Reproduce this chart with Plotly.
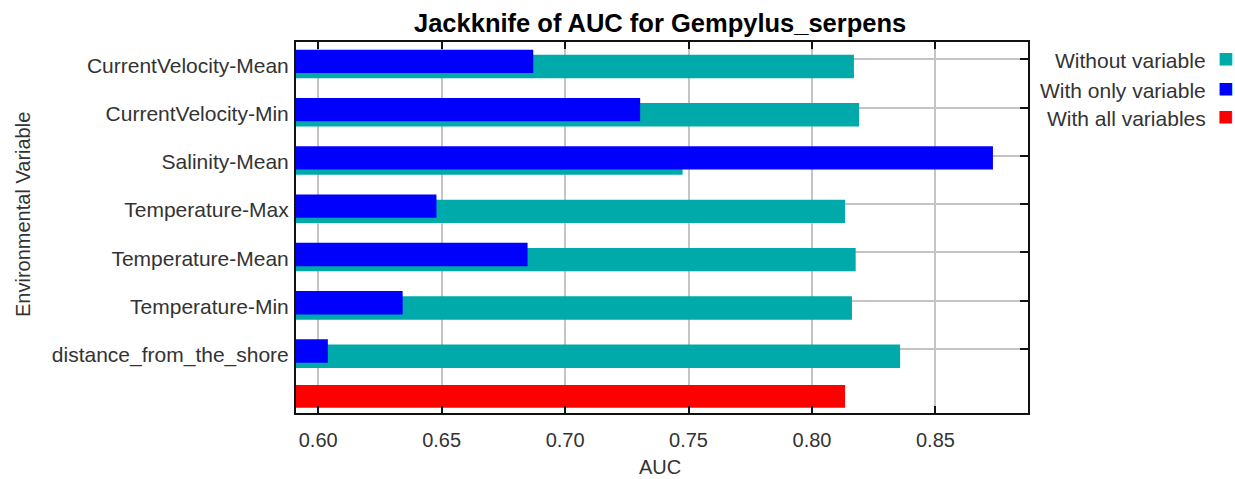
import plotly.graph_objects as go

# Jackknife test of variable importance (AUC) for Gempylus serpens
variables = [
    "CurrentVelocity-Mean",
    "CurrentVelocity-Min",
    "Salinity-Mean",
    "Temperature-Max",
    "Temperature-Mean",
    "Temperature-Min",
    "distance_from_the_shore",
]
auc_without_variable = [0.8170, 0.8191, 0.7476, 0.8134, 0.8177, 0.8162, 0.8357]
auc_with_only_variable = [0.6871, 0.7304, 0.8733, 0.6479, 0.6848, 0.6342, 0.6039]
auc_with_all_variables = [0.8134]

legend_names = ["Without variable", "With only variable", "With all variables"]
x_tick_values = [0.60, 0.65, 0.70, 0.75, 0.80, 0.85]
x_tick_labels = ["0.60", "0.65", "0.70", "0.75", "0.80", "0.85"]

TEAL = "#00aaaa"
BLUE = "#0000ff"
RED = "#ff0000"
FONT = "Liberation Sans, Arial, sans-serif"
TEXT = "#333333"
LINE = "#111111"
GRID = "#c4c4c4"

W, H = 1235, 479
L, R, T, B = 296, 1028, 42, 413          # plot area in pixels
ROW = 48.28                              # pixel height of one category row
FIRST_ROW = 59.3                         # pixel y of the first category gridline


def px_x(p):
    return (p - L) / (R - L)


def px_y(p):
    return (B - p) / (B - T)


rows = list(range(len(variables)))
all_row = [len(variables)]

fig = go.Figure()
fig.add_trace(go.Bar(
    y=rows, x=auc_without_variable, orientation="h",
    width=0.485, offset=-0.093, marker=dict(color=TEAL, line=dict(width=0)),
    name=legend_names[0], showlegend=False,
))
fig.add_trace(go.Bar(
    y=rows, x=auc_with_only_variable, orientation="h",
    width=0.483, offset=-0.199, marker=dict(color=BLUE, line=dict(width=0)),
    name=legend_names[1], showlegend=False,
))
fig.add_trace(go.Bar(
    y=all_row, x=auc_with_all_variables, orientation="h",
    width=0.470, offset=-0.255, marker=dict(color=RED, line=dict(width=0)),
    name=legend_names[2], showlegend=False,
))

y_range = [(B - FIRST_ROW) / ROW, (T - FIRST_ROW) / ROW]

fig.update_layout(
    width=W, height=H,
    margin=dict(l=L, r=W - R, t=T, b=H - B, pad=0),
    paper_bgcolor="white", plot_bgcolor="white",
    barmode="overlay",
    font=dict(family=FONT, size=20, color=TEXT),
    xaxis=dict(
        range=[0.5910, 0.8875],
        tickvals=x_tick_values, ticktext=x_tick_labels,
        ticks="inside", ticklen=7, tickwidth=2, tickcolor=LINE,
        showline=True, linewidth=2, linecolor=LINE, mirror="ticks",
        showgrid=True, gridcolor=GRID, gridwidth=1.5,
        zeroline=False,
        tickfont=dict(family=FONT, size=20, color=TEXT),
        ticklabelstandoff=8,
    ),
    yaxis=dict(
        range=y_range,
        tickvals=rows, ticktext=variables,
        ticks="inside", ticklen=8, tickwidth=2, tickcolor=LINE,
        showline=True, linewidth=2, linecolor=LINE, mirror="ticks",
        showgrid=True, gridcolor=GRID, gridwidth=1.5,
        zeroline=False,
        layer="below traces",
        tickfont=dict(family=FONT, size=21, color=TEXT),
        ticklabelstandoff=1,
        ticklabelshift=-6,
    ),
)

annotations = [
    dict(text="<b>Jackknife of AUC for Gempylus_serpens</b>",
         x=px_x(660), y=px_y(22.5), xanchor="center", yanchor="middle",
         font=dict(family=FONT, size=25.5, color="#000000")),
    dict(text="AUC", x=px_x(660), y=px_y(467), xanchor="center", yanchor="middle",
         font=dict(family=FONT, size=20, color=TEXT)),
    dict(text="Environmental Variable", textangle=-90,
         x=px_x(23), y=px_y(215), xanchor="center", yanchor="middle",
         font=dict(family=FONT, size=20, color=TEXT)),
]

legend_text_y = [60.7, 90.0, 118.0]
legend_box_y = [58.3, 88.0, 116.0]
legend_colors = [TEAL, BLUE, RED]
for name, ty, by, col in zip(legend_names, legend_text_y, legend_box_y, legend_colors):
    annotations.append(dict(
        text=name, x=px_x(1208), y=px_y(ty), xanchor="right", yanchor="middle",
        font=dict(family=FONT, size=21, color=TEXT)))
    annotations.append(dict(
        text="■", x=px_x(1226), y=px_y(by), xanchor="center", yanchor="middle",
        font=dict(family=FONT, size=26, color=col)))

for a in annotations:
    a.update(xref="paper", yref="paper", showarrow=False)
fig.update_layout(annotations=annotations)

fig.write_html("out.html")
